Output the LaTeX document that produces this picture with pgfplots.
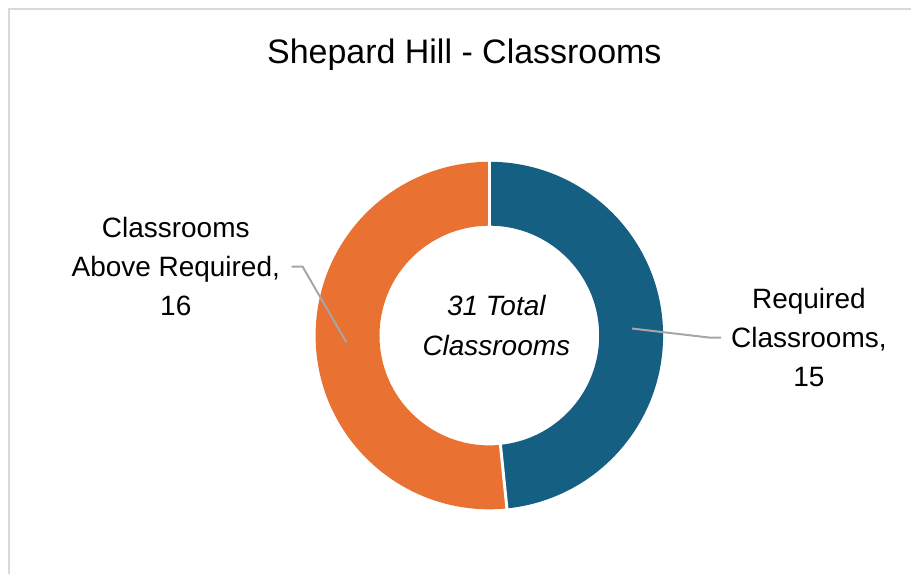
\documentclass[border=0pt]{standalone}
\usepackage{pgfplots}
\pgfplotsset{compat=1.18}
\usepackage{pgfplotstable}
\usepackage{fontspec}
\setmainfont{Liberation Sans}
\definecolor{cblue}{HTML}{156082}
\definecolor{corange}{HTML}{E97132}
\definecolor{frame}{HTML}{D9D9D9}
\definecolor{leader}{HTML}{A6A6A6}
\pgfplotstableread{
label value
Required 15
Above 16
}\datatable
\begin{document}
\begin{tikzpicture}
\pgfplotstablegetelem{0}{value}\of\datatable \let\va\pgfplotsretval
\pgfplotstablegetelem{1}{value}\of\datatable \let\vb\pgfplotsretval
\pgfmathsetmacro\total{\va+\vb}
\pgfmathsetmacro\angA{90-360*\va/\total}
\pgfmathsetmacro\angB{\angA-360*\vb/\total}
\begin{axis}[width=912pt,height=575pt,scale only axis,
  xmin=0,xmax=912,ymin=0,ymax=575,hide axis,clip=false]
\path (axis cs:0,0) rectangle (axis cs:912,575);
\draw[frame,line width=2.5pt] (axis cs:9,0) -- (axis cs:9,566) -- (axis cs:912,566);
% donut ring segments (mid radius 142, thickness 64)
\draw[cblue,line width=64pt] (axis cs:490,239) ++(90:142pt) arc[start angle=90,end angle=\angA,radius=142pt];
\draw[corange,line width=64pt] (axis cs:490,239) ++(\angA:142pt) arc[start angle=\angA,end angle=\angB,radius=142pt];
\draw[white,line width=3pt] (axis cs:490,239) ++(90:105pt) -- ++(90:75pt);
\draw[white,line width=3pt] (axis cs:490,239) ++(\angA:105pt) -- ++(\angA:75pt);
% leader lines
\draw[leader,line width=2pt] (axis cs:292,308) -- (axis cs:303,308) -- (axis cs:347,232);
\draw[leader,line width=2pt] (axis cs:633,246) -- (axis cs:710,237) -- (axis cs:722,237);
% texts
\node[font=\fontsize{34}{40}\selectfont] at (axis cs:465,520) {Shepard Hill - Classrooms};
\node[font=\fontsize{28}{39}\selectfont,align=center] at (axis cs:176,308) {Classrooms\\Above Required,\\16};
\node[font=\fontsize{28}{39}\selectfont,align=center] at (axis cs:810,237) {Required\\Classrooms,\\15};
\node[font=\fontsize{28}{40}\selectfont\itshape,align=center] at (axis cs:497,249) {31 Total\\Classrooms};
\end{axis}
\end{tikzpicture}
\end{document}
